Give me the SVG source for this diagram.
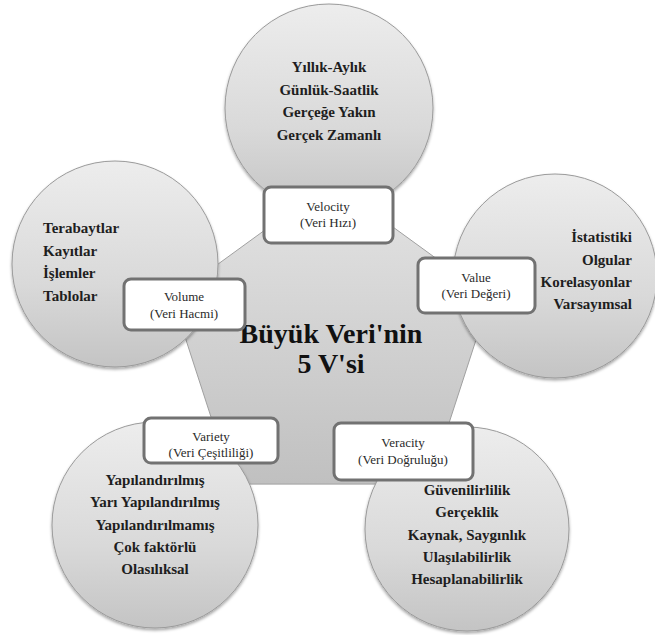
<svg xmlns="http://www.w3.org/2000/svg" width="655" height="635" viewBox="0 0 655 635">
<defs>
<linearGradient id="gc" x1="0" y1="0" x2="0" y2="1">
<stop offset="0" stop-color="#ededed"/>
<stop offset="0.6" stop-color="#d9d9d9"/>
<stop offset="1" stop-color="#c4c4c4"/>
</linearGradient>
<linearGradient id="gp" x1="0" y1="0" x2="0" y2="1">
<stop offset="0" stop-color="#e4e4e4"/>
<stop offset="1" stop-color="#c0c0c0"/>
</linearGradient>
<filter id="sh" x="-20%" y="-20%" width="140%" height="140%">
<feDropShadow dx="0" dy="2" stdDeviation="1.5" flood-color="#000" flood-opacity="0.35"/>
</filter>
</defs>
<style>
.circ{fill:url(#gc);stroke:#9a9a9a;stroke-width:1;filter:url(#sh)}
.pent{fill:url(#gp);stroke:#a0a0a0;stroke-width:1}
.box{fill:#ffffff;stroke:#727272;stroke-width:3}
.t{font-family:"Liberation Serif","Times New Roman",serif;font-size:15px;fill:#1e1e1e;font-weight:bold}
.bl{font-family:"Liberation Serif","Times New Roman",serif;font-size:13px;fill:#2a2a2a;text-anchor:middle}
.mid{text-anchor:middle}
.end{text-anchor:end}
.title{font-family:"Liberation Serif","Times New Roman",serif;font-size:28px;font-weight:bold;fill:#111;text-anchor:middle}
</style>
<rect width="655" height="635" fill="#ffffff"/>

<g id="center">
<polygon class="pent" points="331,182 489.8,297.4 429.2,484.1 232.8,484.1 172.2,297.4"/>
</g>

<g id="velocity-circle">
<circle class="circ" cx="329" cy="108" r="104"/>
<text class="t mid" x="329" y="72">Yıllık-Aylık</text>
<text class="t mid" x="329" y="94.5">Günlük-Saatlik</text>
<text class="t mid" x="329" y="117">Gerçeğe Yakın</text>
<text class="t mid" x="329" y="139.5">Gerçek Zamanlı</text>
</g>

<g id="volume-circle">
<circle class="circ" cx="115" cy="264" r="103"/>
<text class="t" x="43" y="233">Terabaytlar</text>
<text class="t" x="43" y="255.5">Kayıtlar</text>
<text class="t" x="43" y="278">İşlemler</text>
<text class="t" x="43" y="300.5">Tablolar</text>
</g>

<g id="value-circle">
<circle class="circ" cx="555" cy="276" r="102"/>
<text class="t end" x="632" y="242">İstatistiki</text>
<text class="t end" x="632" y="264.5">Olgular</text>
<text class="t end" x="632" y="287">Korelasyonlar</text>
<text class="t end" x="632" y="309">Varsayımsal</text>
</g>

<g id="variety-circle">
<circle class="circ" cx="155" cy="525" r="103"/>
<text class="t mid" x="155" y="485">Yapılandırılmış</text>
<text class="t mid" x="155" y="507">Yarı Yapılandırılmış</text>
<text class="t mid" x="155" y="529.5">Yapılandırılmamış</text>
<text class="t mid" x="155" y="552">Çok faktörlü</text>
<text class="t mid" x="155" y="574">Olasılıksal</text>
</g>

<g id="veracity-circle">
<circle class="circ" cx="467" cy="529" r="102"/>
<text class="t mid" x="467" y="495">Güvenilirlilik</text>
<text class="t mid" x="467" y="517">Gerçeklik</text>
<text class="t mid" x="467" y="539.5">Kaynak, Saygınlık</text>
<text class="t mid" x="467" y="562">Ulaşılabilirlik</text>
<text class="t mid" x="467" y="584">Hesaplanabilirlik</text>
</g>

<g id="title">
<text class="title" x="331" y="343">Büyük Veri'nin</text>
<text class="title" x="331" y="373">5 V'si</text>
</g>

<g id="velocity">
<rect class="box" x="264" y="187" width="129" height="56" rx="7"/>
<text class="bl" x="328" y="211">Velocity</text>
<text class="bl" x="328" y="227">(Veri Hızı)</text>
</g>

<g id="volume">
<rect class="box" x="124" y="279" width="121" height="51" rx="7"/>
<text class="bl" x="184" y="301">Volume</text>
<text class="bl" x="184" y="318">(Veri Hacmi)</text>
</g>

<g id="value">
<rect class="box" x="418" y="258" width="117" height="55" rx="7"/>
<text class="bl" x="476" y="282">Value</text>
<text class="bl" x="476" y="298">(Veri Değeri)</text>
</g>

<g id="variety">
<rect class="box" x="144" y="418" width="134" height="45" rx="7"/>
<text class="bl" x="211" y="441">Variety</text>
<text class="bl" x="211" y="457">(Veri Çeşitliliği)</text>
</g>

<g id="veracity">
<rect class="box" x="334" y="423" width="139" height="57" rx="7"/>
<text class="bl" x="403" y="447">Veracity</text>
<text class="bl" x="403" y="464">(Veri Doğruluğu)</text>
</g>
</svg>
